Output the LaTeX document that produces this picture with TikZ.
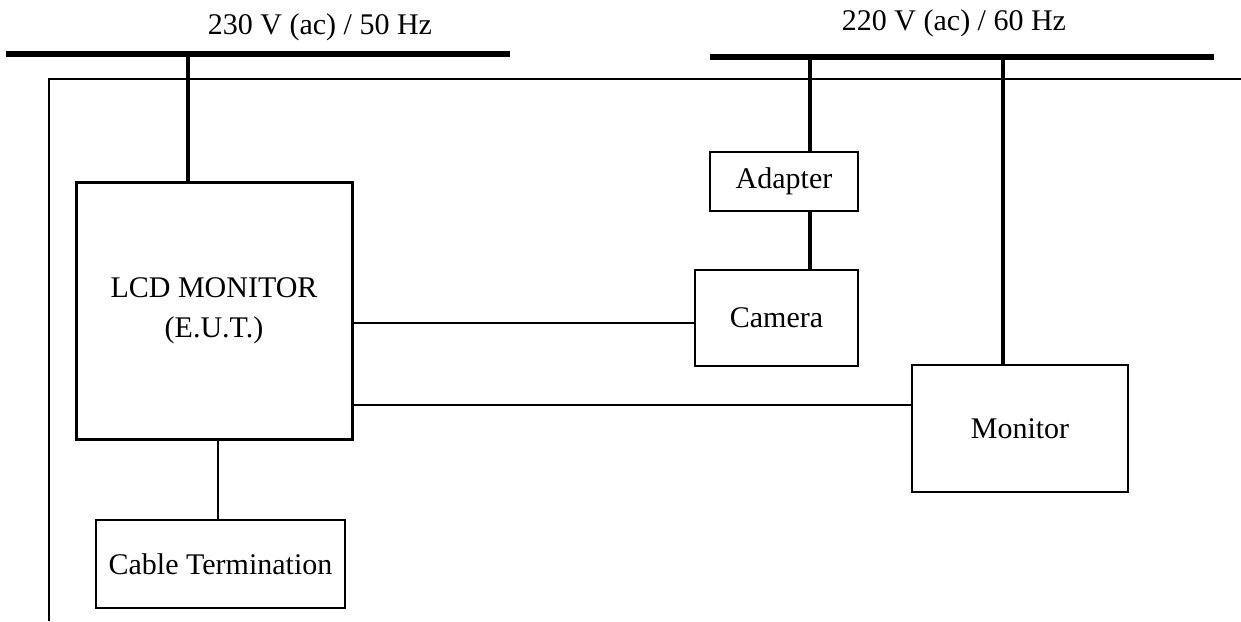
\documentclass[tikz,border=0pt]{standalone}
\usepackage{fontspec}
\setmainfont{Liberation Serif}
\usetikzlibrary{positioning}

\begin{document}
\begin{tikzpicture}[
    x=1pt, y=-1pt,
    font=\fontsize{30}{38}\selectfont,
    unit/.style={draw, line width=1.3pt, minimum width=#1, inner sep=0pt, align=center},
    eut/.style={draw, line width=3pt, minimum width=276pt, minimum height=257pt, inner sep=0pt, align=center},
    bus/.style={line width=6pt},
    feed/.style={line width=4pt},
    cable/.style={line width=1.2pt}
]
\useasboundingbox (0,0) rectangle (1241,621);

% supplies
\coordinate (busAw) at (6,54);
\coordinate (busAe) at (510,54);
\coordinate (busBw) at (710,57);
\coordinate (busBe) at (1214,57);
\node (supA) at (320,27) {230 V (ac) / 50 Hz};
\node (supB) at (954,23) {220 V (ac) / 60 Hz};
\draw[bus] (busAw) -- (busAe);
\draw[bus] (busBw) -- (busBe);

% ground plane
\draw[line width=2pt] (49,621) -- (49,79) -- (1241,79);

% equipment
\node[eut] (lcd) at (214,310.5) {LCD MONITOR\\[2pt](E.U.T.)};
\node[unit=148pt, minimum height=59pt] (adapter) at (784,181.5) {Adapter};
\node[unit=163pt, minimum height=96pt] (camera) at (776.5,318) {Camera};
\node[unit=216pt, minimum height=127pt] (monitor) at (1020,428.5) {Monitor};
\node[unit=249pt, minimum height=88pt] (term) at (220.5,564) {Cable Termination};

% power cords
\draw[feed] (lcd.north -| 188,0) -- (188,54);
\draw[feed] (adapter.north -| 810,0) -- (810,57);
\draw[feed] (adapter.south -| 810,0) -- (camera.north -| 810,0);
\draw[feed] (monitor.north -| 1003,0) -- (1003,57);

% signal cables
\draw[cable] (lcd.east |- 0,323) -- (camera.west |- 0,323);
\draw[cable] (lcd.east |- 0,405) -- (monitor.west |- 0,405);
\draw[cable] (lcd.south -| 218,0) -- (term.north -| 218,0);

\end{tikzpicture}
\end{document}
